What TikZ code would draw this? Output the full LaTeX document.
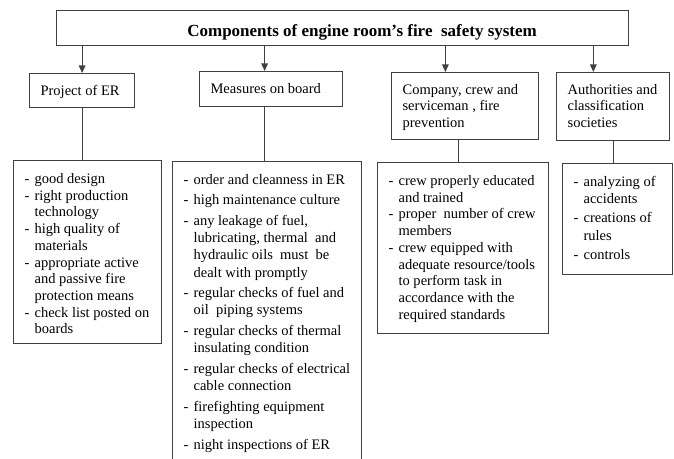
\documentclass[tikz,border=0pt]{standalone}
\usepackage{fontspec}
\setmainfont{Liberation Serif}
\usetikzlibrary{arrows.meta,calc}
\definecolor{linec}{HTML}{404040}
\newlength\firstbl
\newcommand\fs{\rule{0pt}{\firstbl}}
\newcommand\itm{\par\hangindent=10bp\hangafter=1\noindent\makebox[10bp][l]{-}}
\newcommand\boxtext[6]{\begin{minipage}[t][#2][t]{#1}\fontsize{14.5bp}{#4}\selectfont\setlength\firstbl{#3}\leftskip=11bp\rightskip=0pt plus 1fil\parfillskip=0pt plus 1fil\parindent=0pt\parskip=#5\relax #6\end{minipage}}
\tikzset{
  box/.style={draw=linec, line width=1.2bp, inner sep=0pt, anchor=north west, text=black},
  arr/.style={draw=linec, line width=1.2bp, -{Triangle[width=6.5bp,length=7.5bp]}},
  conn/.style={draw=linec, line width=1.2bp}
}
\begin{document}
\begin{tikzpicture}[x=1bp,y=-1bp]
\path[use as bounding box] (0,0) rectangle (674,459);
\clip (0,0) rectangle (674,459);
% title
\node[box, minimum width=572bp, minimum height=35bp, font=\fontsize{17bp}{20bp}\selectfont\bfseries] (title) at (56,10)
  {\raisebox{-8.5bp}[0pt][0pt]{\hspace{39bp}Components of engine room's fire\ \ safety system}};
% header boxes
\node[box] (proj) at (29,73) {\boxtext{105bp}{34bp}{22bp}{16.5bp}{0bp}{\fs Project of ER}};
\node[box] (meas) at (199,71) {\boxtext{143bp}{35bp}{21.5bp}{16.5bp}{0bp}{\fs Measures on board}};
\node[box] (comp) at (391,72) {\boxtext{147bp}{67bp}{21.5bp}{16.5bp}{0bp}{\fs Company, crew and\newline serviceman , fire\newline prevention}};
\node[box] (auth) at (556,72) {\boxtext{113bp}{68bp}{21.5bp}{16.5bp}{0bp}{\fs Authorities and\newline classification\newline societies}};
% list boxes
\node[box] (list1) at (13,160) {\boxtext{148bp}{183bp}{23bp}{16.7bp}{0bp}{%
\itm\fs good design
\itm right production\newline technology
\itm high quality of\newline materials
\itm appropriate active\newline and passive fire\newline protection means
\itm check list posted on\newline boards}};
\node[box] (list2) at (172,161) {\boxtext{189bp}{310bp}{22.5bp}{17.2bp}{3.5bp}{%
\itm\fs order and cleanness in ER
\itm high maintenance culture
\itm any leakage of fuel,\newline lubricating, thermal\ \ and\newline hydraulic oils\ \ must\ \ be\newline dealt with promptly
\itm regular checks of fuel and\newline oil\ \ piping systems
\itm regular checks of thermal\newline insulating condition
\itm regular checks of electrical\newline cable connection
\itm firefighting equipment\newline inspection
\itm night inspections of ER}};
\node[box] (list3) at (377,162) {\boxtext{171bp}{171bp}{23bp}{16.7bp}{0bp}{%
\itm\fs crew properly educated\newline and trained
\itm proper\ \ number of crew\newline members
\itm crew equipped with\newline adequate resource/tools\newline to perform task in\newline accordance with the\newline required standards}};
\node[box] (list4) at (562,163) {\boxtext{110bp}{111bp}{23bp}{17.3bp}{1.8bp}{%
\itm\fs analyzing of\newline accidents
\itm creations of\newline rules
\itm controls}};
% arrow targets
\coordinate (tp) at (proj.north);
\coordinate (tm) at ($(meas.north west)!0.455!(meas.north east)$);
\coordinate (tc) at ($(comp.north west)!0.367!(comp.north east)$);
\coordinate (ta) at ($(auth.north west)!0.327!(auth.north east)$);
\draw[arr] (title.south -| tp) -- (tp);
\draw[arr] (title.south -| tm) -- (tm);
\draw[arr] (title.south -| tc) -- (tc);
\draw[arr] (title.south -| ta) -- (ta);
% header to list connectors
\coordinate (l2) at ($(list2.north west)!0.487!(list2.north east)$);
\coordinate (l3) at ($(list3.north west)!0.474!(list3.north east)$);
\draw[conn] (proj.south) -- (proj.south |- list1.north);
\draw[conn] (meas.south -| l2) -- (l2);
\draw[conn] (comp.south -| l3) -- (l3);
\draw[conn] (auth.south) -- (auth.south |- list4.north);
\end{tikzpicture}
\end{document}
